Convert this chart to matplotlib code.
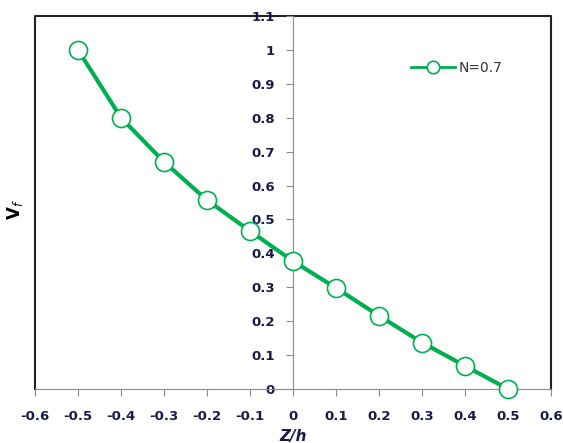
import numpy as np
import matplotlib.pyplot as plt

z_h = [-0.5, -0.4, -0.3, -0.2, -0.1, 0.0, 0.1, 0.2, 0.3, 0.4, 0.5]
vf = [1.0, 0.80, 0.67, 0.557, 0.466, 0.377, 0.298, 0.216, 0.137, 0.068, 0.0]
series_label = 'N=0.7'
x_ticks = [-0.6, -0.5, -0.4, -0.3, -0.2, -0.1, 0, 0.1, 0.2, 0.3, 0.4, 0.5, 0.6]
x_ticklabels = ['-0.6', '-0.5', '-0.4', '-0.3', '-0.2', '-0.1', '0', '0.1', '0.2', '0.3', '0.4', '0.5', '0.6']
y_ticks = [0, 0.1, 0.2, 0.3, 0.4, 0.5, 0.6, 0.7, 0.8, 0.9, 1.0, 1.1]
y_ticklabels = ['0', '0.1', '0.2', '0.3', '0.4', '0.5', '0.6', '0.7', '0.8', '0.9', '1', '1.1']

green = '#00B050'
label_color = '#1a1a4a'

fig = plt.figure(figsize=(5.63, 4.43), dpi=100)
ax = fig.add_axes([35 / 563, 1 - 389 / 443, (551 - 35) / 563, (389 - 16) / 443])

ax.plot(z_h, vf, color=green, lw=3, marker='o', markersize=13,
        markerfacecolor='white', markeredgecolor=green, markeredgewidth=1.2,
        label=series_label, clip_on=False, zorder=5)

ax.set_xlim(-0.6, 0.6)
ax.set_ylim(0, 1.1)

# y axis crosses at x = 0, like Excel
ax.spines['left'].set_position(('data', 0))
ax.spines['left'].set_color('#8c8c8c')
ax.spines['bottom'].set_color('#8c8c8c')
ax.spines['top'].set_visible(False)
ax.spines['right'].set_visible(False)
ax.plot([0, 0, 1, 1], [0, 1, 1, 0], transform=ax.transAxes, color='#222222',
        lw=1.5, clip_on=False, zorder=1)

ax.set_xticks(x_ticks)
ax.set_xticklabels(x_ticklabels)
ax.set_yticks(y_ticks)
ax.set_yticklabels(y_ticklabels)
ax.tick_params(axis='both', direction='out', length=5, color='#8c8c8c',
               labelsize=9.5, labelcolor=label_color)
ax.tick_params(axis='x', pad=10)
ax.tick_params(axis='y', pad=8)
for t in ax.get_xticklabels() + ax.get_yticklabels():
    t.set_fontweight('bold')

fig.text(15 / 563, 1 - 210 / 443, r'$\mathbf{V}_{\mathit{f}}$', rotation=90,
         ha='center', va='center', fontsize=12, color='black')
fig.text(293 / 563, 1 - 437 / 443, 'Z/h', ha='center', va='center',
         fontsize=11, fontweight='bold', style='italic', color=label_color)

leg = ax.legend(loc='center left', bbox_to_anchor=(404 / 563, 1 - 68 / 443),
                bbox_transform=fig.transFigure, frameon=False, fontsize=10,
                handlelength=3.2, handletextpad=0.2, borderpad=0)
for h in leg.legend_handles:
    h.set_linewidth(2)
    h.set_markersize(9)
for t in leg.get_texts():
    t.set_color('#333333')

fig.savefig('out.png', dpi=100)
